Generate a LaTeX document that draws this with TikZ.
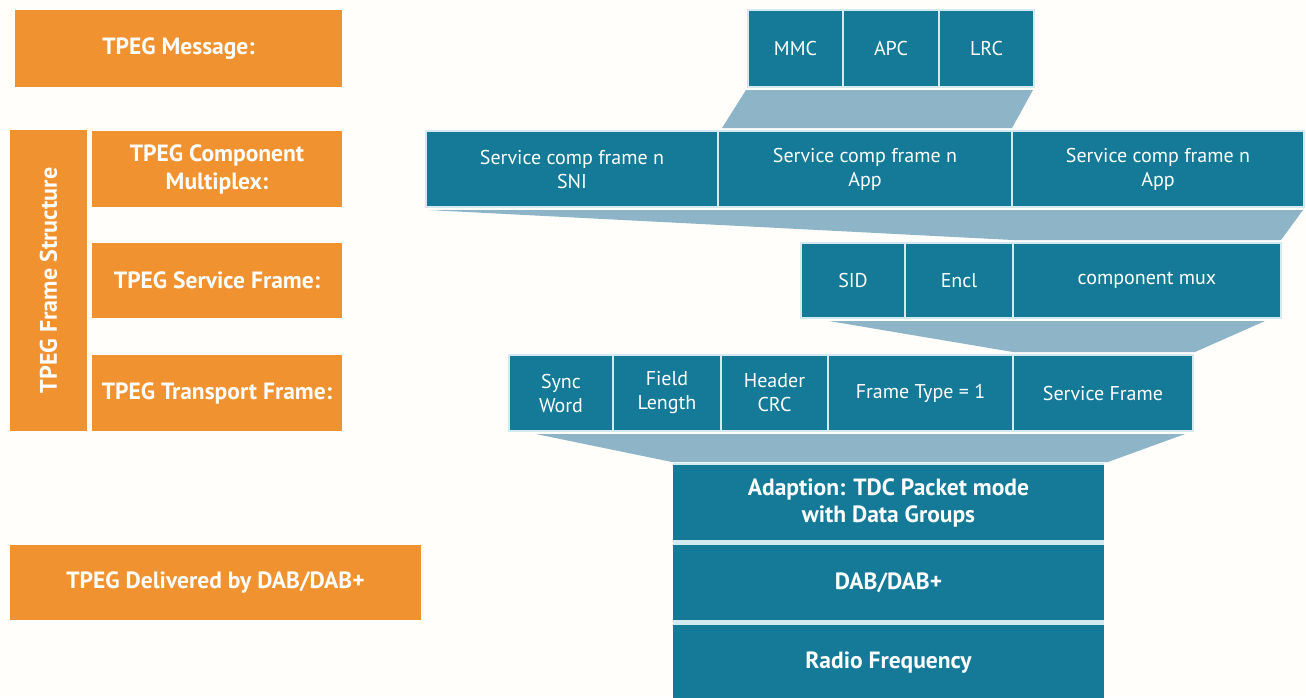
\documentclass[tikz,border=0pt]{standalone}
\usepackage{fontspec}
\setmainfont{PT Sans}
\usetikzlibrary{calc}
\definecolor{tealc}{HTML}{147A98}
\definecolor{funnelc}{HTML}{8DB5C7}
\definecolor{orng}{HTML}{F0922F}
\definecolor{edgec}{HTML}{D3EAF1}
\definecolor{bgc}{HTML}{FFFEFA}
\pgfdeclarelayer{background}
\pgfsetlayers{background,main}
\tikzset{
 obox/.style={fill=orng, draw=none, text=white, font=\fontsize{23.5}{28}\selectfont\bfseries, align=center, inner sep=0pt, outer sep=0pt, anchor=north west},
 tbox/.style={fill=tealc, draw=edgec, line width=2pt, text=white, font=\fontsize{20}{24}\selectfont, align=center, inner sep=0pt, outer sep=0pt, anchor=north west},
 bbox/.style={tbox, draw=none, font=\fontsize{23.5}{27}\selectfont\bfseries},
 funnel/.style={fill=funnelc, draw=none},
 gapfill/.style={fill=edgec, draw=none},
}
\begin{document}
\begin{tikzpicture}[x=1pt,y=-1pt]
\useasboundingbox (0,0) rectangle (1306,697);
% orange labels
\node[obox, minimum width=327pt, minimum height=77pt] (msg) at (15,10) {TPEG Message:};
\node[obox, minimum width=77pt, minimum height=301pt] (fs) at (10,130) {};
\node[rotate=90, text=white, font=\fontsize{24}{28}\selectfont\bfseries] (fstxt) at (fs.center) {TPEG Frame Structure};
\node[obox, minimum width=250pt, minimum height=76pt] (cm) at (92,131) {TPEG Component\\Multiplex:};
\node[obox, minimum width=250pt, minimum height=75pt] (sfl) at (92,243) {TPEG Service Frame:};
\node[obox, minimum width=250pt, minimum height=76pt] (tfl) at (92,355) {TPEG Transport Frame:};
\node[obox, minimum width=411pt, minimum height=75pt] (dl) at (10,545) {TPEG Delivered by DAB/DAB+};
% message row
\node[tbox, minimum width=95pt, minimum height=77pt] (mmc) at (748,10) {MMC};
\node[tbox, minimum width=96pt, minimum height=77pt] (apc) at (843,10) {APC};
\node[tbox, minimum width=95pt, minimum height=77pt] (lrc) at (939,10) {LRC};
% component multiplex row
\node[tbox, minimum width=292pt, minimum height=76pt] (scf1) at (426,131) {Service comp frame n\\SNI};
\node[tbox, minimum width=294pt, minimum height=76pt] (scf2) at (718,131) {Service comp frame n\\App};
\node[tbox, minimum width=292pt, minimum height=76pt] (scf3) at (1012,131) {Service comp frame n\\App};
% service frame row
\node[tbox, minimum width=104pt, minimum height=75pt] (sid) at (801,243) {SID};
\node[tbox, minimum width=108pt, minimum height=75pt] (encl) at (905,243) {Encl};
\node[tbox, minimum width=268pt, minimum height=75pt] (cmux) at (1013,243) {component mux};
% transport row
\node[tbox, minimum width=104pt, minimum height=76pt] (sync) at (509,355) {Sync\\Word};
\node[tbox, minimum width=108pt, minimum height=76pt] (field) at (613,355) {Field\\Length};
\node[tbox, minimum width=107pt, minimum height=76pt] (hcrc) at (721,355) {Header\\CRC};
\node[tbox, minimum width=185pt, minimum height=76pt] (ftype) at (828,355) {Frame Type = 1};
\node[tbox, minimum width=180pt, minimum height=76pt] (sf) at (1013,355) {Service Frame};
% delivery stack
\node[bbox, minimum width=431pt, minimum height=75pt] (adapt) at (673,465) {Adaption: TDC Packet mode\\with Data Groups};
\node[bbox, minimum width=431pt, minimum height=75pt] (dab) at (673,545) {DAB/DAB+};
\node[bbox, minimum width=431pt, minimum height=75pt] (radio) at (673,625) {Radio Frequency};
\begin{pgfonlayer}{background}
\fill[bgc] (0,0) rectangle (1306,697);
\fill[funnel] ($(mmc.south west)+(-2,3)$) -- ($(lrc.south east)+(-1,3)$) -- ($(scf2.north east)+(0,-3)$) -- ($(scf2.north west)+(4,-3)$) -- cycle;
\fill[funnel] ($(scf1.south west)+(2,3)$) -- ($(scf3.south east)+(-1,3)$) -- ($(cmux.north east)+(0,-3)$) -- ($(cmux.north west)+(0,-3)$) -- cycle;
\fill[funnel] ($(sid.south west)+(28,3)$) -- ($(cmux.south east)+(-16,3)$) -- ($(sf.north east)+(2,-3)$) -- ($(sf.north west)+(0,-3)$) -- cycle;
\fill[funnel] ($(sync.south west)+(27,3)$) -- ($(sf.south east)+(-8,3)$) -- ($(adapt.north east)+(4,-3)$) -- ($(adapt.north west)+(-1,-3)$) -- cycle;
\fill[gapfill] (adapt.south west) rectangle (dab.north east);
\fill[gapfill] (dab.south west) rectangle (radio.north east);
\fill[gapfill] ($(adapt.north west)+(0,-2)$) rectangle (adapt.north east);
\end{pgfonlayer}
\end{tikzpicture}
\end{document}
